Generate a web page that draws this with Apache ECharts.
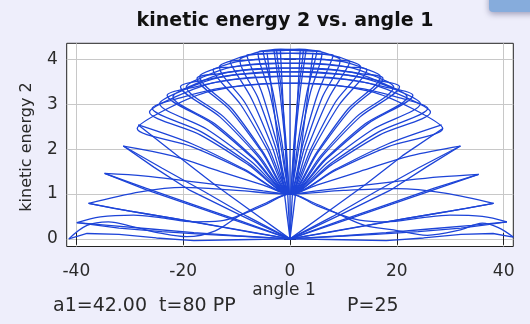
<!DOCTYPE html>
<html><head><meta charset="utf-8">
<script src="https://cdn.jsdelivr.net/npm/echarts@6/dist/echarts.min.js"></script>
<style>html,body{margin:0;padding:0;background:#eeeefb;}#c{width:530px;height:324px;}</style>
</head><body><div id="c"></div>
<script>
const xTicks = [-40, -20, 0, 20, 40];
const yTicks = [0, 1, 2, 3, 4];
const xRange = [-41.8, 41.8];
const yRange = [-0.17, 4.36];

// large swings that cross angle 0 at the hub (kinetic energy ~1): [angle 1, kinetic energy 2]
const wingHubSwings = [
  [[-41.4,0],[-38,0.3],[-34,0.38],[-29.3,0.27],[-24.3,0.13],[-19.3,0.05],[-14,0.18],[-9.3,0.53],[-4.5,0.8],[0,1],[4.5,0.8],[8.8,0.57],[14,0.3],[19.4,0.2],[25.7,0.08],[31.9,0.2],[36,0.35],[39,0.25],[41.8,0.04]],
  [[-39.9,0.36],[-35.5,0.49],[-29.3,0.53],[-24,0.47],[-18,0.38],[-13,0.4],[-9.3,0.53],[-4.5,0.77],[0,1],[5,0.74],[8.8,0.57],[13,0.42],[18,0.38],[24.5,0.47],[30,0.53],[36,0.5],[40.6,0.38]],
  [[-37.7,0.79],[-28,1.05],[-20,1.15],[-10,1.08],[0,1],[10,1.08],[20,1.12],[29,1.02],[38.1,0.79]],
  [[-34.7,1.46],[-27,1.4],[-20,1.3],[-12,1.18],[-5,1.07],[0,1],[5,1.07],[12,1.17],[20,1.28],[28,1.38],[35.3,1.44]],
  [[-31.2,2.07],[-22,1.85],[-13,1.5],[-5,1.2],[0,1],[5,1.2],[13,1.5],[22.5,1.85],[31.9,2.07]]
];
// large swings that cross angle 0 with almost no kinetic energy (right tip -> left tip)
const wingBottomSwingsRL = [
  [[41.8,0.04],[38,0.12],[32,0.1],[25,0.02],[18,-0.04],[10,-0.02],[0,0],[-8,0.05],[-16,0.1],[-24,0.16],[-32,0.24],[-37,0.32],[-39.9,0.36]],
  [[40.6,0.38],[34,0.3],[26,0.22],[18,0.14],[10,0.07],[0,0],[-9,0.19],[-18,0.38],[-27,0.56],[-33,0.68],[-37.7,0.79]],
  [[38.1,0.79],[30,0.62],[22,0.46],[14,0.29],[7,0.14],[0,0],[-9.3,0.4],[-18,0.76],[-27,1.13],[-34.7,1.46]],
  [[35.3,1.44],[27,1.1],[18,0.73],[9,0.36],[0,0],[-9.3,0.53],[-18.7,1.08],[-25.5,1.6],[-31.2,2.07]],
  [[31.9,2.07],[24,1.58],[16,1.05],[8,0.5],[0,0],[-7,0.6],[-14,1.2],[-21,1.85],[-28.4,2.54]]
];
// the same kind of swings, left tip -> right tip
const wingBottomSwingsLR = [
  [[-41.4,0.0],[-38,0.12],[-32,0.1],[-25,0.02],[-18,-0.04],[-10,-0.02],[0,0],[8,0.05],[16,0.1],[24,0.16],[32,0.24],[37,0.32],[40.6,0.38]],
  [[-39.9,0.36],[-34,0.3],[-26,0.22],[-18,0.14],[-10,0.07],[0,0],[9,0.19],[18,0.38],[27,0.56],[33,0.68],[38.1,0.79]],
  [[-37.7,0.79],[-30,0.62],[-22,0.46],[-14,0.29],[-7,0.14],[0,0],[9.3,0.4],[18,0.76],[27,1.13],[35.3,1.44]],
  [[-34.7,1.46],[-27,1.1],[-18,0.73],[-9,0.36],[0,0],[9.3,0.53],[18.7,1.08],[25.5,1.6],[31.9,2.07]],
  [[-31.2,2.07],[-24,1.58],[-16,1.05],[-8,0.5],[0,0],[7,0.6],[14,1.2],[21,1.85],[28.6,2.46]]
];
// small swings: up a rib from the hub to a turning point, then arching over the top to the other side
const domeSwingsA = [
  [-28.4,2.54],[-18.18,2.11],[-8.52,1.55],[0,1],[8.58,1.53],[18.3,2.05],[28.6,2.46],
  [23.16,2.89],[15.0,3.29],[1.4,3.47],[-12.2,3.37],[-20.36,3.15],[-25.8,2.91],
  [-16.51,2.38],[-7.74,1.69],[0,1],[7.89,1.66],[16.83,2.32],[26.3,2.83],
  [21.37,3.17],[13.98,3.49],[1.65,3.63],[-10.68,3.55],[-18.07,3.38],[-23,3.2],
  [-14.72,2.58],[-6.9,1.79],[0,1],[7.32,1.73],[15.62,2.45],[24.4,3.02],
  [19.91,3.32],[13.18,3.6],[1.95,3.73],[-9.28,3.67],[-16.01,3.54],[-20.5,3.39],
  [-13.12,2.72],[-6.15,1.86],[0,1],[6.57,1.78],[14.02,2.56],[21.9,3.17],
  [17.97,3.44],[12.08,3.7],[2.25,3.81],[-7.58,3.77],[-13.47,3.68],[-17.4,3.58],
  [-11.14,2.86],[-5.22,1.93],[0,1],[5.82,1.86],[12.42,2.72],[19.4,3.39],
  [16.02,3.62],[10.95,3.83],[2.5,3.92],[-5.95,3.89],[-11.02,3.83],[-14.4,3.77],
  [-9.22,2.99],[-4.32,2.0],[0,1],[5.07,1.94],[10.82,2.89],[16.9,3.62],
  [14.09,3.79],[9.88,3.95],[2.85,4.02],[-4.18,4.01],[-8.39,3.98],[-11.2,3.95],
  [-7.17,3.12],[-3.36,2.06],[0,1],[3.96,2.02],[8.45,3.04],[13.2,3.84],
  [11.07,3.97],[7.88,4.09],[2.55,4.14],[-2.78,4.13],[-5.97,4.12],[-8.1,4.1],
  [-5.18,3.23],[-2.43,2.12],[0,1],[2.82,2.08],[6.02,3.15],[9.4,3.99],
  [7.96,4.08],[5.8,4.17],[2.2,4.21],[-1.4,4.2],[-3.56,4.19],[-5,4.17],
  [-3.2,3.28],[-1.5,2.14],[0,1],[1.8,2.13],[3.84,3.27],[6,4.15],
  [4.3,4.2],[1.75,4.23],[-0.8,4.22],[-2.5,4.2],
  [-1.6,3.3],[-0.75,2.15],[0,1],[0.9,2.15],[1.92,3.3],[3,4.2]
];
const domeSwingsB = [
  [28.4,2.54],[18.18,2.11],[8.52,1.55],[0,1],[-8.58,1.53],[-18.3,2.05],[-28.6,2.46],
  [-23.16,2.89],[-15.0,3.29],[-1.4,3.47],[12.2,3.37],[20.36,3.15],[25.8,2.91],
  [16.51,2.38],[7.74,1.69],[0,1],[-7.89,1.66],[-16.83,2.32],[-26.3,2.83],
  [-21.37,3.17],[-13.98,3.49],[-1.65,3.63],[10.68,3.55],[18.07,3.38],[23,3.2],
  [14.72,2.58],[6.9,1.79],[0,1],[-7.32,1.73],[-15.62,2.45],[-24.4,3.02],
  [-19.91,3.32],[-13.18,3.6],[-1.95,3.73],[9.28,3.67],[16.01,3.54],[20.5,3.39],
  [13.12,2.72],[6.15,1.86],[0,1],[-6.57,1.78],[-14.02,2.56],[-21.9,3.17],
  [-17.97,3.44],[-12.08,3.7],[-2.25,3.81],[7.58,3.77],[13.47,3.68],[17.4,3.58],
  [11.14,2.86],[5.22,1.93],[0,1],[-5.82,1.86],[-12.42,2.72],[-19.4,3.39],
  [-16.02,3.62],[-10.95,3.83],[-2.5,3.92],[5.95,3.89],[11.02,3.83],[14.4,3.77],
  [9.22,2.99],[4.32,2.0],[0,1],[-5.07,1.94],[-10.82,2.89],[-16.9,3.62],
  [-14.09,3.79],[-9.88,3.95],[-2.85,4.02],[4.18,4.01],[8.39,3.98],[11.2,3.95],
  [7.17,3.12],[3.36,2.06],[0,1],[-3.96,2.02],[-8.45,3.04],[-13.2,3.84],
  [-11.07,3.97],[-7.88,4.09],[-2.55,4.14],[2.78,4.13],[5.97,4.12],[8.1,4.1],
  [5.18,3.23],[2.43,2.12],[0,1],[-2.82,2.08],[-6.02,3.15],[-9.4,3.99],
  [-7.96,4.08],[-5.8,4.17],[-2.2,4.21],[1.4,4.2],[3.56,4.19],[5,4.17],
  [3.2,3.28],[1.5,2.14],[0,1],[-1.8,2.13],[-3.84,3.27],[-6,4.15],
  [-4.3,4.2],[-1.75,4.23],[0.8,4.22],[2.5,4.2],
  [1.6,3.3],[0.75,2.15],[0,1],[-0.9,2.15],[-1.92,3.3],[-3,4.2]
];
// nearly vertical strokes from the bottom point up to the top of the dome
const centerStrokes = [
  [[0,0],[0,4.2]],
  [[0,0],[-4.3,4.15]],
  [[0,0],[-1.8,4.2]],
  [[0,0],[1.9,4.2]],
  [[0,0],[4.3,4.15]]
];

const lineColor = '#1d44d8';
const lineStyle = { color: lineColor, width: 1.3 };
const mk = (data, smooth) => ({ type: 'line', data: data, showSymbol: false, smooth: smooth, lineStyle: lineStyle, silent: true, animation: false });
const series = [].concat(
  wingHubSwings.map(d => mk(d, 0.35)),
  wingBottomSwingsRL.map(d => mk(d, false)),
  wingBottomSwingsLR.map(d => mk(d, false)),
  [mk(domeSwingsA, 0.3), mk(domeSwingsB, 0.3)],
  centerStrokes.map(d => mk(d, false))
);

const font = '"DejaVu Sans", "Liberation Sans", sans-serif';
const textColor = '#2a2a2a';
const tickStyle = { show: true, inside: true, length: 6, lineStyle: { color: '#222', width: 1 } };
const chart = echarts.init(document.getElementById('c'), null, { renderer: 'canvas' });
chart.setOption({
  backgroundColor: '#eeeefb',
  animation: false,
  grid: { left: 66.7, top: 43.3, right: 16.7, bottom: 77.5, show: true, backgroundColor: '#ffffff', borderColor: '#222', borderWidth: 1 },
  xAxis: [
    { type: 'value', min: xRange[0], max: xRange[1], position: 'bottom',
      axisLine: { show: false }, axisTick: Object.assign({ customValues: xTicks }, tickStyle),
      axisLabel: { customValues: xTicks, fontSize: 17, color: textColor, fontFamily: font, margin: 17 },
      splitLine: { show: true, lineStyle: { color: '#c8c8c8', width: 1 } } },
    { type: 'value', min: xRange[0], max: xRange[1], position: 'top',
      axisLine: { show: false }, axisTick: Object.assign({ customValues: xTicks }, tickStyle),
      axisLabel: { show: false }, splitLine: { show: false } }
  ],
  yAxis: [
    { type: 'value', min: yRange[0], max: yRange[1], position: 'left',
      axisLine: { show: false }, axisTick: Object.assign({ customValues: yTicks }, tickStyle),
      axisLabel: { customValues: yTicks, fontSize: 17, color: textColor, fontFamily: font, margin: 9 },
      splitLine: { show: true, lineStyle: { color: '#c8c8c8', width: 1 } } },
    { type: 'value', min: yRange[0], max: yRange[1], position: 'right',
      axisLine: { show: false }, axisTick: Object.assign({ customValues: yTicks }, tickStyle),
      axisLabel: { show: false }, splitLine: { show: false } }
  ],
  graphic: [
    { type: 'rect', shape: { x: 489, y: -8, width: 50, height: 20, r: 4 }, style: { fill: '#86acdc', shadowBlur: 6, shadowColor: 'rgba(0,0,60,0.35)', shadowOffsetY: 2 } },
    { type: 'text', x: 285, y: 21, style: { text: 'kinetic energy 2 vs. angle 1', font: 'bold 19px "DejaVu Sans", sans-serif', fill: '#111', textAlign: 'center', textVerticalAlign: 'middle' } },
    { type: 'text', x: 27, y: 147, rotation: Math.PI / 2, style: { text: 'kinetic energy 2', font: '16px ' + font, fill: textColor, textAlign: 'center', textVerticalAlign: 'middle' } },
    { type: 'text', x: 284, y: 291, style: { text: 'angle 1', font: '17px ' + font, fill: textColor, textAlign: 'center', textVerticalAlign: 'middle' } },
    { type: 'text', x: 53, y: 306, style: { text: 'a1=42.00  t=80 PP', font: '19px ' + font, fill: textColor, textAlign: 'left', textVerticalAlign: 'middle' } },
    { type: 'text', x: 347, y: 306, style: { text: 'P=25', font: '19px ' + font, fill: textColor, textAlign: 'left', textVerticalAlign: 'middle' } }
  ],
  series: series
});
</script></body></html>
